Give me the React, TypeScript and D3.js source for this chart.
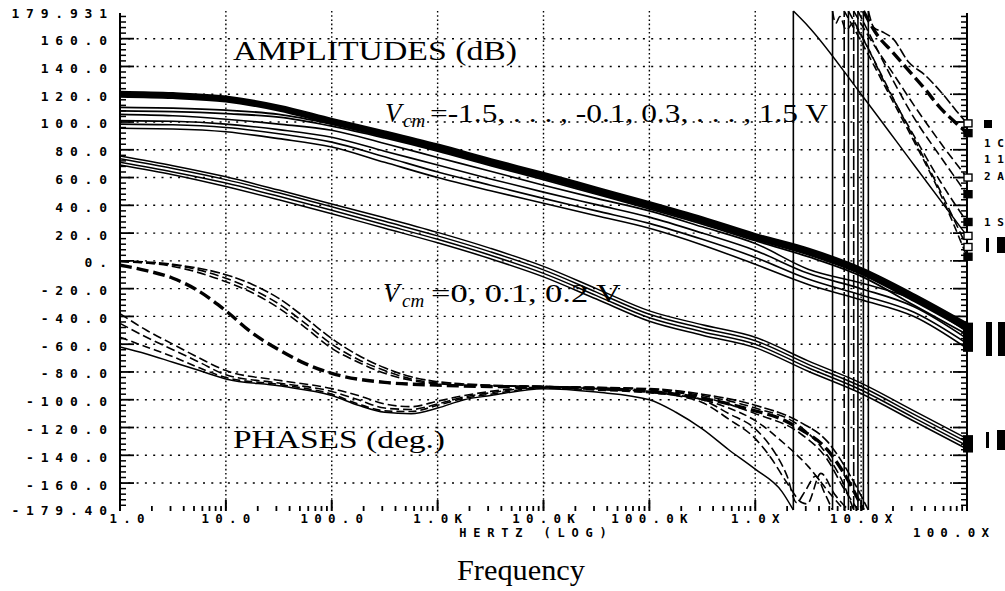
import React from 'react';
import * as d3 from 'd3';

// ---------- axis definitions ----------
const X_TICK_FREQS = [1, 10, 100, 1e3, 1e4, 1e5, 1e6, 1e7, 1e8];
const X_TICK_LABELS = ['1.0', '10.0', '100.0', '1.0K', '10.0K', '100.0K', '1.0X', '10.0X', '100.0X'];
const Y_TICK_VALUES = [179.931, 160, 140, 120, 100, 80, 60, 40, 20, 0, -20, -40, -60, -80, -100, -120, -140, -160, -179.4];
const Y_TICK_LABELS = ['179.931', '160.0', '140.0', '120.0', '100.0', '80.0', '60.0', '40.0', '20.0', '0.', '-20.0', '-40.0', '-60.0', '-80.0', '-100.0', '-120.0', '-140.0', '-160.0', '-179.40'];
const GRID_VALUES = [160, 140, 120, 100, 80, 60, 40, 20, 0, -20, -40, -60, -80, -100, -120, -140, -160];
const GRID_FREQS = [10, 100, 1e3, 1e4, 1e5, 1e6, 1e7];

// ---------- amplitude curves (dB) on half-decade grid ----------
const AMP_FREQ = [1, 3.16, 10, 31.6, 100, 316, 1e3, 3.16e3, 1e4, 3.16e4, 1e5, 3.16e5, 1e6, 3.16e6, 1e7, 3.16e7, 1e8];
const AMP_A_BAND = [120, 119, 116.5, 110, 100.5, 91.5, 82, 71.5, 61.5, 51, 40.5, 29.5, 17.5, 7, -7, -26, -47];
const AMP_A_M1 = [110.5, 110, 108.5, 105.5, 98.5, 89.5, 80, 69.5, 59.5, 49, 38.5, 27.5, 15.5, 4.5, -9.5, -29, -50];
const AMP_A_M2 = [108, 107.5, 106, 103.5, 97, 88.5, 79, 68.5, 58.5, 48, 37.5, 26.5, 14.5, 3, -11, -32, -53];
const AMP_A_1 = [105.5, 104.5, 102, 98.5, 94, 84.5, 74.5, 64.5, 54.5, 45, 36, 24.5, 12.5, -6, -16, -28, -51];
const AMP_A_2 = [101, 100.5, 98.5, 94.5, 89, 79, 69, 59, 49.5, 40.5, 31.5, 20, 7.5, -9, -20, -33, -56];
const AMP_A_3 = [98.5, 98, 96, 91.5, 85.5, 75, 64, 54.5, 45, 36, 27, 15.5, 2.5, -13, -24.5, -37, -59.5];
const AMP_A_4 = [95.5, 95, 93, 88, 82, 71, 60, 50.5, 41.5, 32.5, 23.5, 11.5, -2.5, -17, -28, -40, -63];
const AMP_B_1 = [75.5, 68.5, 60.5, 51, 41, 31, 20.5, 9, -4, -20, -36, -46, -55, -72, -88, -108, -128];
const AMP_B_2 = [73.5, 66.5, 58.5, 49, 39, 28.5, 18, 6.5, -6.5, -22.5, -38.5, -48.5, -57.5, -74.5, -90.5, -110.5, -130.5];
const AMP_B_3 = [71, 64, 56, 46.5, 36.5, 26, 15.5, 4, -9, -25, -41, -51, -60, -77, -93, -113, -133];
const AMP_B_4 = [69, 62, 53.5, 44, 34, 23.5, 13, 1.5, -11.5, -27.5, -43.5, -53.5, -62.5, -79.5, -95.5, -115.5, -135.5];

// ---------- phase curves (deg): [Hz, deg] ----------
const PH_P1: [number, number][] = [[1, -3], [1.78, -7], [3.16, -12.5], [5.62, -22], [10, -36], [17.8, -52], [31.6, -64], [56.2, -74], [100, -81], [316, -87.5], [1e3, -89.5], [3.16e3, -90.5], [1e4, -91], [3.16e4, -92], [1e5, -94], [3.16e5, -99], [1e6, -108], [1.78e6, -114], [2.63e6, -121], [4.79e6, -136], [6.76e6, -152], [9.12e6, -170], [1.05e7, -179.4]];
const PH_P2: [number, number][] = [[1, -0.5], [3.16, -4], [10, -15], [17.8, -23], [31.6, -34], [56.2, -48], [100, -63], [178, -73], [316, -81], [562, -86], [1e3, -88.5], [3.16e3, -90], [1e4, -90.5], [1e5, -92.5], [3.16e5, -97], [1e6, -106], [2.63e6, -119], [4.79e6, -140], [6.76e6, -160], [8.51e6, -179.4]];
const PH_P3: [number, number][] = [[1, -0.5], [3.16, -3], [10, -12.5], [17.8, -20.5], [31.6, -31], [56.2, -45], [100, -60], [178, -71], [316, -79], [562, -85], [1e3, -88], [3.16e3, -90], [1e4, -90.5], [1e5, -93], [3.16e5, -98], [1e6, -110], [2.63e6, -124], [4.79e6, -143], [6.76e6, -163], [9.33e6, -179.4]];
const PH_P4: [number, number][] = [[1, 0], [3.16, -2.5], [10, -10], [17.8, -17], [31.6, -27], [56.2, -41], [100, -56], [178, -68], [316, -77], [562, -83.5], [1e3, -87], [3.16e3, -89.5], [1e4, -90.5], [1e5, -92], [3.16e5, -96], [1e6, -104], [2.63e6, -116], [4.79e6, -130], [7.94e6, -155], [1.17e7, -179.4]];
const PH_Q1: [number, number][] = [[1, -38], [1.78, -50], [3.16, -60], [5.62, -70], [10, -79], [31.6, -86], [100, -92], [178, -97], [316, -103], [562, -105], [1e3, -101], [1.78e3, -97], [3.16e3, -94], [1e4, -91], [3.16e4, -92], [1e5, -94], [1.78e5, -96], [3.16e5, -100], [5.62e5, -110], [1e6, -121], [1.41e6, -134], [2e6, -155], [2.45e6, -174], [2.95e6, -166], [3.72e6, -155], [4.57e6, -168], [5.37e6, -179.4]];
const PH_Q2: [number, number][] = [[1, -45], [1.78, -55], [3.16, -64], [5.62, -73], [10, -82], [31.6, -88], [100, -94], [178, -100], [316, -106], [562, -107], [1e3, -103], [1.78e3, -98], [3.16e3, -95], [1e4, -91], [3.16e4, -92], [1e5, -94.5], [1.78e5, -97], [3.16e5, -102], [5.62e5, -114], [1e6, -128], [1.41e6, -142], [2e6, -160], [2.75e6, -174], [3.09e6, -175], [4.17e6, -153], [5.62e6, -168], [7.59e6, -179.4]];
const PH_Q3: [number, number][] = [[1, -55], [1.78, -62], [3.16, -69], [5.62, -77], [10, -84], [31.6, -89], [100, -96], [178, -103], [316, -108], [562, -108.5], [1e3, -104], [1.78e3, -99], [3.16e3, -96], [1e4, -91.5], [3.16e4, -93], [1e5, -95], [3.16e5, -100], [5.62e5, -106], [1e6, -115], [1.78e6, -130], [3.16e6, -148], [5.01e6, -167], [6.92e6, -179.4]];
const PH_Q4: [number, number][] = [[1, -62], [1.78, -67], [3.16, -73], [5.62, -79], [10, -85], [31.6, -90], [100, -97], [178, -104], [316, -109], [562, -110], [1e3, -106], [1.78e3, -100], [3.16e3, -97], [1e4, -92], [3.16e4, -94.5], [1e5, -100], [1.78e5, -109], [3.16e5, -121], [5.62e5, -136], [1e6, -150], [1.78e6, -166], [2.29e6, -179.4]];

// wrapped (+180 side) continuation of each phase curve
const PH_P1_W: [number, number][] = [[1.05e7, 179.9], [1.41e7, 163], [2e7, 150], [2.82e7, 137], [3.98e7, 124], [5.62e7, 110], [7.94e7, 99], [1e8, 92]];
const PH_P2_W: [number, number][] = [[8.51e6, 179.9], [1.26e7, 158], [2e7, 135], [3.16e7, 112], [5.62e7, 85], [1e8, 60]];
const PH_P3_W: [number, number][] = [[9.33e6, 179.9], [1.26e7, 160], [2e7, 130], [3.16e7, 103], [5.62e7, 75], [1e8, 48]];
const PH_P4_W: [number, number][] = [[1.17e7, 179.9], [1.32e7, 168], [1.58e7, 165], [2e7, 160], [2.82e7, 143], [3.98e7, 134], [5.62e7, 122], [7.94e7, 108], [1e8, 99]];
const PH_Q1_W: [number, number][] = [[5.37e6, 179.9], [5.75e6, 171], [6.31e6, 176], [7.24e6, 166], [8.32e6, 171], [1e7, 162], [1.78e7, 124], [3.16e7, 90], [5.62e7, 57], [1e8, 28]];
const PH_Q2_W: [number, number][] = [[7.59e6, 179.9], [1e7, 163], [1.78e7, 125], [3.16e7, 88], [5.62e7, 50], [1e8, 10]];
const PH_Q3_W: [number, number][] = [[6.92e6, 179.9], [1e7, 158], [1.78e7, 122], [3.16e7, 86], [5.62e7, 48], [1e8, 3]];
const PH_Q4_W: [number, number][] = [[2.29e6, 179.9], [3.16e6, 169], [1e7, 120], [3.16e7, 69], [1e8, 18]];

const MONO = '"DejaVu Sans Mono", monospace';
const SERIF = '"Liberation Serif", "Times New Roman", serif';

export default function App() {
  const x = d3.scaleLog().domain([1, 1e8]).range([120, 967]);
  const y = d3.scaleLinear().domain([-179.4, 179.931]).range([510, 11]);
  const line = d3.line<[number, number]>().x(d => x(d[0])).y(d => y(d[1])).curve(d3.curveMonotoneX);
  const amp = (vals: number[]) => AMP_FREQ.map((f, i) => [f, vals[i]] as [number, number]);

  const ampCurves = [
    { d: AMP_A_BAND, w: 7 },
    { d: AMP_A_M1, w: 1.8 },
    { d: AMP_A_M2, w: 1.8 },
    { d: AMP_A_1, w: 1.6 },
    { d: AMP_A_2, w: 1.6 },
    { d: AMP_A_3, w: 1.6 },
    { d: AMP_A_4, w: 1.6 },
    { d: AMP_B_1, w: 1.5 },
    { d: AMP_B_2, w: 1.5 },
    { d: AMP_B_3, w: 1.5 },
    { d: AMP_B_4, w: 1.5 },
  ];
  const phaseCurves = [
    { low: PH_P1, wrap: PH_P1_W, dash: '12 5', w: 3.4, vdash: '' },
    { low: PH_P2, wrap: PH_P2_W, dash: '9 4', w: 1.6, vdash: '14 3' },
    { low: PH_P3, wrap: PH_P3_W, dash: '9 4', w: 1.6, vdash: '' },
    { low: PH_P4, wrap: PH_P4_W, dash: '10 3', w: 1.6, vdash: '' },
    { low: PH_Q1, wrap: PH_Q1_W, dash: '9 4', w: 1.6, vdash: '' },
    { low: PH_Q2, wrap: PH_Q2_W, dash: '9 4', w: 1.6, vdash: '' },
    { low: PH_Q3, wrap: PH_Q3_W, dash: '8 4', w: 1.6, vdash: '14 3' },
    { low: PH_Q4, wrap: PH_Q4_W, dash: '', w: 1.5, vdash: '' },
  ];

  const x0 = x.range()[0];
  const x1 = x.range()[1];
  const yTop = y(179.931);
  const yBot = y(-179.4);

  const yMinor = d3.range(-176, 180, 4).filter(v => v % 20 !== 0);
  const xMinor: number[] = [];
  X_TICK_FREQS.slice(0, -1).forEach(f => { for (let k = 2; k <= 9; k++) xMinor.push(f * k); });

  const yLS = 6.8;
  const xLS = 6.2;

  return (
    <div style={{ position: 'absolute', left: 0, top: 0 }}>
      <svg width={1005} height={591} style={{ display: 'block', background: '#fff' }}>
        <rect x={0} y={0} width={1005} height={591} fill="#fff" />
        {/* grid */}
        {GRID_VALUES.map(v => (
          <line key={'gy' + v} x1={x0} x2={x1} y1={y(v)} y2={y(v)} stroke="#000" strokeWidth={1.4} strokeDasharray="2 6.3" />
        ))}
        {GRID_FREQS.map(f => (
          <line key={'gx' + f} x1={x(f)} x2={x(f)} y1={yTop} y2={yBot} stroke="#000" strokeWidth={1.4} strokeDasharray="1.6 2.6" />
        ))}
        {/* axes */}
        <line x1={x0} x2={x0} y1={yTop + 2} y2={yBot + 1} stroke="#000" strokeWidth={2} />
        <line x1={x1} x2={x1} y1={yTop + 2} y2={yBot + 1} stroke="#000" strokeWidth={2} />
        {yMinor.map(v => (
          <g key={'ym' + v}>
            <line x1={x0} x2={x0 + 6} y1={y(v)} y2={y(v)} stroke="#000" strokeWidth={1.5} />
            <line x1={x1 - 6} x2={x1} y1={y(v)} y2={y(v)} stroke="#000" strokeWidth={1.5} />
          </g>
        ))}
        {GRID_VALUES.map(v => (
          <g key={'yM' + v}>
            <line x1={x0} x2={x0 + 14} y1={y(v)} y2={y(v)} stroke="#000" strokeWidth={1.8} />
            <line x1={x1 - 14} x2={x1} y1={y(v)} y2={y(v)} stroke="#000" strokeWidth={1.8} />
          </g>
        ))}
        {xMinor.map(f => (
          <line key={'xm' + f} x1={x(f)} x2={x(f)} y1={yBot + 1} y2={yBot - 4} stroke="#000" strokeWidth={1.8} />
        ))}
        {X_TICK_FREQS.map(f => (
          <line key={'xM' + f} x1={x(f)} x2={x(f)} y1={yBot + 1} y2={yBot - 10} stroke="#000" strokeWidth={2} />
        ))}

        {/* amplitude curves */}
        {ampCurves.map((c, i) => (
          <path key={'a' + i} d={line(amp(c.d)) || ''} fill="none" stroke="#000" strokeWidth={c.w} strokeLinejoin="round" />
        ))}

        {/* phase curves with wrap-around */}
        {phaseCurves.map((c, i) => {
          const wx = x(c.low[c.low.length - 1][0]);
          return (
            <g key={'p' + i} fill="none" stroke="#000" strokeWidth={c.w}>
              <path d={line(c.low) || ''} strokeDasharray={c.dash || undefined} />
              <line x1={wx} x2={wx} y1={y(c.low[c.low.length - 1][1])} y2={y(c.wrap[0][1])} strokeWidth={1.6}
                strokeDasharray={c.vdash || undefined} />
              <path d={line(c.wrap) || ''} strokeDasharray={c.dash || undefined} />
            </g>
          );
        })}

        {/* end markers */}
        {ampCurves.map((c, i) => (
          <rect key={'am' + i} x={x1 - 4} y={y(c.d[c.d.length - 1]) - 3.5} width={10} height={7} fill="#000" />
        ))}
        {phaseCurves.map((c, i) => (
          <rect key={'pm' + i} x={x1 - 3} y={y(c.wrap[c.wrap.length - 1][1]) - 3.5} width={8} height={7}
            fill={i % 2 === 0 ? '#000' : '#fff'} stroke="#000" strokeWidth={1.4} />
        ))}

        {/* y tick labels */}
        {Y_TICK_VALUES.map((v, i) => (
          <text key={'yl' + i} x={107 + yLS} y={y(v) + (i === Y_TICK_VALUES.length - 1 ? 5 : 6.5)} textAnchor="end" fontFamily={MONO} fontWeight="bold"
            fontSize={13} letterSpacing={yLS} fill="#000">{Y_TICK_LABELS[i]}</text>
        ))}
        {/* x tick labels */}
        {X_TICK_FREQS.map((f, i) => (
          <text key={'xl' + i} x={x(f) + xLS / 2 + (i === 0 ? 7 : 0) - (i === 8 ? 16 : 0)} y={i === 8 ? 537 : 523} textAnchor="middle" fontFamily={MONO}
            fontWeight="bold" fontSize={12.5} letterSpacing={xLS} fill="#000">{X_TICK_LABELS[i]}</text>
        ))}
        <text x={533 + 6.8 / 2} y={537} textAnchor="middle" fontFamily={MONO} fontWeight="bold" fontSize={12}
          letterSpacing={6.8} fill="#000">HERTZ (LOG)</text>

        {/* right-hand trace tags (cut off at the page edge) */}
        <g fontFamily={MONO} fontWeight="bold" fontSize={11} fill="#000">
          <rect x={984} y={120} width={8} height={8} />
          <text x={984} y={147}>1 C</text>
          <text x={984} y={163}>1 1</text>
          <text x={984} y={180}>2 A</text>
          <text x={984} y={226}>1 S</text>
          <rect x={986} y={238} width={3} height={14} />
          <rect x={997} y={237} width={8} height={16} />
          <rect x={986} y={322} width={6} height={34} />
          <rect x={998} y={322} width={7} height={34} />
          <rect x={986} y={432} width={3} height={16} />
          <rect x={997} y={430} width={8} height={20} />
        </g>

        {/* annotations */}
        <text x={233} y={60} fontFamily={SERIF} fontSize={28} textLength={284} lengthAdjust="spacingAndGlyphs" fill="#000">AMPLITUDES (dB)</text>
        <text x={385} y={122} fontFamily={SERIF} fontStyle="italic" fontSize={27} fill="#000">V</text>
        <text x={403} y={127} fontFamily={SERIF} fontStyle="italic" fontSize={19} fill="#000">cm</text>
        <text x={430} y={122} fontFamily={SERIF} fontSize={26} textLength={398} lengthAdjust="spacingAndGlyphs" fill="#000">=-1.5, . . . , -0.1, 0.3, . . . , 1.5 V</text>
        <text x={383} y={302} fontFamily={SERIF} fontStyle="italic" fontSize={27} fill="#000">V</text>
        <text x={402} y={307} fontFamily={SERIF} fontStyle="italic" fontSize={19} fill="#000">cm</text>
        <text x={431} y={302} fontFamily={SERIF} fontSize={26} textLength={190} lengthAdjust="spacingAndGlyphs" fill="#000">=0, 0.1, 0.2 V</text>
        <text x={233} y={448} fontFamily={SERIF} fontSize={26} textLength={212} lengthAdjust="spacingAndGlyphs" fill="#000">PHASES (deg.)</text>
        <text x={521} y={580} textAnchor="middle" fontFamily={SERIF} fontSize={29} textLength={128} lengthAdjust="spacingAndGlyphs" fill="#000">Frequency</text>
      </svg>
    </div>
  );
}
